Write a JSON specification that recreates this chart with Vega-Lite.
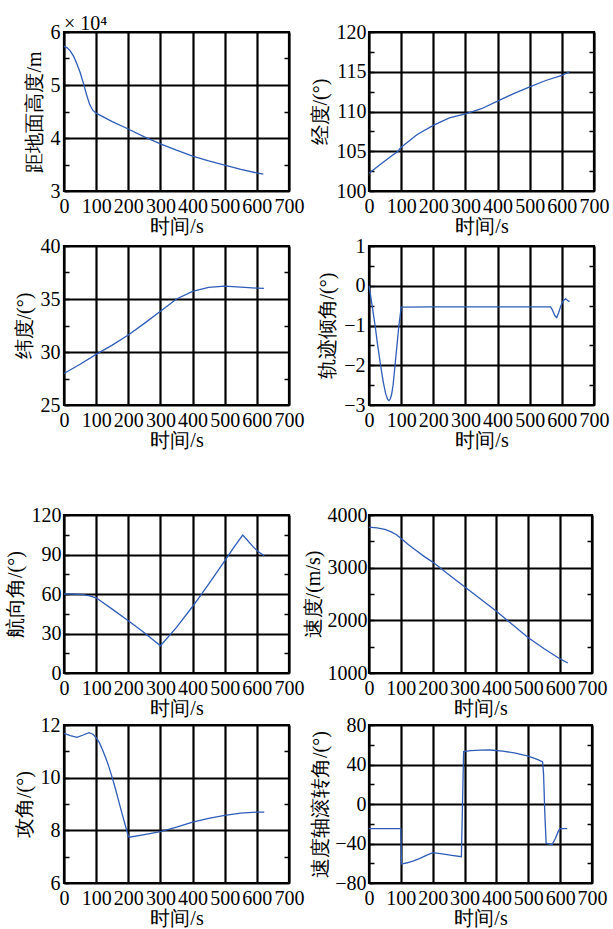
{
  "$schema": "https://vega.github.io/schema/vega-lite/v6.json",
  "padding": {"left": 3, "top": 12, "right": 3, "bottom": 0},
  "background": "white",
  "config": {
    "font": "Liberation Serif",
    "axis": {
      "labelFont": "Liberation Serif",
      "titleFont": "Liberation Serif",
      "labelFontSize": 20,
      "titleFontSize": 20,
      "titleFontWeight": "normal",
      "labelColor": "black",
      "titleColor": "black",
      "gridColor": "black",
      "gridWidth": 2.2,
      "gridOpacity": 1,
      "domain": false,
      "tickColor": "black",
      "tickWidth": 1.5,
      "labelOverlap": false
    },
    "view": {"stroke": "black", "strokeWidth": 2.2},
    "line": {"color": "#2e5cb8", "strokeWidth": 1.3}
  },
  "datasets": {
    "alt": [
      {"t": 0, "v": 57300}, {"t": 10, "v": 57000}, {"t": 20, "v": 56400}, {"t": 30, "v": 55400},
      {"t": 40, "v": 54000}, {"t": 50, "v": 52400}, {"t": 60, "v": 50400}, {"t": 70, "v": 48200},
      {"t": 80, "v": 46300}, {"t": 90, "v": 45200}, {"t": 100, "v": 44700}, {"t": 150, "v": 43100},
      {"t": 200, "v": 41700}, {"t": 250, "v": 40200}, {"t": 300, "v": 38900}, {"t": 350, "v": 37700},
      {"t": 400, "v": 36600}, {"t": 450, "v": 35700}, {"t": 500, "v": 34900}, {"t": 550, "v": 34100},
      {"t": 600, "v": 33400}, {"t": 620, "v": 33200}
    ],
    "lon": [
      {"t": 0, "v": 102.23}, {"t": 50, "v": 103.8}, {"t": 90, "v": 105.0}, {"t": 100, "v": 105.5},
      {"t": 150, "v": 107.1}, {"t": 200, "v": 108.25}, {"t": 250, "v": 109.2}, {"t": 300, "v": 109.7},
      {"t": 350, "v": 110.35}, {"t": 400, "v": 111.3}, {"t": 450, "v": 112.25}, {"t": 500, "v": 113.1},
      {"t": 550, "v": 113.9}, {"t": 600, "v": 114.55}, {"t": 624, "v": 115.0}
    ],
    "lat": [
      {"t": 0, "v": 27.97}, {"t": 50, "v": 28.84}, {"t": 100, "v": 29.78}, {"t": 150, "v": 30.65},
      {"t": 200, "v": 31.6}, {"t": 250, "v": 32.7}, {"t": 300, "v": 33.84}, {"t": 350, "v": 35.0},
      {"t": 400, "v": 35.72}, {"t": 450, "v": 36.1}, {"t": 500, "v": 36.22}, {"t": 550, "v": 36.12},
      {"t": 600, "v": 36.03}, {"t": 622, "v": 36.0}
    ],
    "gamma": [
      {"t": 0, "v": 0}, {"t": 5, "v": -0.25}, {"t": 10, "v": -0.52}, {"t": 19, "v": -1.0},
      {"t": 27, "v": -1.5}, {"t": 36, "v": -2.0}, {"t": 45, "v": -2.45}, {"t": 52, "v": -2.72},
      {"t": 58, "v": -2.86}, {"t": 62, "v": -2.89}, {"t": 66, "v": -2.85}, {"t": 70, "v": -2.75},
      {"t": 75, "v": -2.5}, {"t": 81, "v": -2.0}, {"t": 87, "v": -1.5}, {"t": 93, "v": -1.0},
      {"t": 97, "v": -0.75}, {"t": 100, "v": -0.54}, {"t": 200, "v": -0.53}, {"t": 400, "v": -0.53},
      {"t": 565, "v": -0.53}, {"t": 570, "v": -0.6}, {"t": 578, "v": -0.75}, {"t": 584, "v": -0.8},
      {"t": 590, "v": -0.68}, {"t": 597, "v": -0.5}, {"t": 605, "v": -0.37}, {"t": 612, "v": -0.33},
      {"t": 618, "v": -0.37}, {"t": 624, "v": -0.4}
    ],
    "psi": [
      {"t": 0, "v": 60}, {"t": 20, "v": 60}, {"t": 40, "v": 59.8}, {"t": 60, "v": 59.5},
      {"t": 80, "v": 58.6}, {"t": 100, "v": 57.1}, {"t": 150, "v": 48.5}, {"t": 200, "v": 39.7},
      {"t": 250, "v": 30.5}, {"t": 300, "v": 20.7}, {"t": 350, "v": 34.6}, {"t": 400, "v": 50.5},
      {"t": 450, "v": 67.5}, {"t": 500, "v": 85.1}, {"t": 530, "v": 96}, {"t": 556, "v": 104.8},
      {"t": 570, "v": 101}, {"t": 588, "v": 96}, {"t": 605, "v": 92}, {"t": 623, "v": 89}
    ],
    "vel": [
      {"t": 0, "v": 3770}, {"t": 25, "v": 3755}, {"t": 50, "v": 3725}, {"t": 70, "v": 3680},
      {"t": 85, "v": 3630}, {"t": 100, "v": 3560}, {"t": 125, "v": 3430}, {"t": 150, "v": 3315},
      {"t": 175, "v": 3205}, {"t": 200, "v": 3106}, {"t": 250, "v": 2870}, {"t": 300, "v": 2637},
      {"t": 350, "v": 2405}, {"t": 400, "v": 2174}, {"t": 450, "v": 1920}, {"t": 500, "v": 1670},
      {"t": 550, "v": 1460}, {"t": 600, "v": 1267}, {"t": 624, "v": 1190}
    ],
    "aoa": [
      {"t": 0, "v": 11.68}, {"t": 20, "v": 11.6}, {"t": 40, "v": 11.53}, {"t": 60, "v": 11.62},
      {"t": 78, "v": 11.71}, {"t": 90, "v": 11.65}, {"t": 100, "v": 11.52}, {"t": 110, "v": 11.33},
      {"t": 120, "v": 11.05}, {"t": 130, "v": 10.75}, {"t": 140, "v": 10.4}, {"t": 150, "v": 10.0},
      {"t": 160, "v": 9.58}, {"t": 170, "v": 9.12}, {"t": 180, "v": 8.66}, {"t": 190, "v": 8.22},
      {"t": 200, "v": 7.78}, {"t": 203, "v": 7.74}, {"t": 250, "v": 7.84}, {"t": 300, "v": 7.95},
      {"t": 350, "v": 8.12}, {"t": 400, "v": 8.31}, {"t": 450, "v": 8.45}, {"t": 500, "v": 8.57},
      {"t": 550, "v": 8.65}, {"t": 600, "v": 8.69}, {"t": 623, "v": 8.69}
    ],
    "bank": [
      {"t": 0, "v": -25}, {"t": 100, "v": -25}, {"t": 102, "v": -60.8}, {"t": 120, "v": -59.5},
      {"t": 140, "v": -57.5}, {"t": 160, "v": -55}, {"t": 180, "v": -52}, {"t": 200, "v": -49.2},
      {"t": 230, "v": -50.5}, {"t": 260, "v": -52}, {"t": 290, "v": -53.3}, {"t": 297, "v": 53},
      {"t": 320, "v": 54}, {"t": 350, "v": 54.6}, {"t": 380, "v": 54.7}, {"t": 420, "v": 53.6},
      {"t": 460, "v": 51.5}, {"t": 500, "v": 48.5}, {"t": 530, "v": 45}, {"t": 545, "v": 42.5},
      {"t": 548, "v": 30}, {"t": 552, "v": -10}, {"t": 556, "v": -39.5}, {"t": 565, "v": -40.5},
      {"t": 575, "v": -41}, {"t": 585, "v": -35}, {"t": 595, "v": -27}, {"t": 600, "v": -25},
      {"t": 622, "v": -25}
    ]
  },
  "concat": [
    {
      "concat": [
        {
          "width": 225, "height": 159,
          "data": {"name": "alt"},
          "title": {"text": "× 10⁴", "anchor": "start", "frame": "group", "font": "Liberation Serif", "fontSize": 20, "fontWeight": "normal", "color": "black", "offset": -12},
          "encoding": {"x": {"field": "t", "type": "quantitative", "scale": {"domain": [0, 700], "nice": false},
                    "axis": {"title": "时间/s", "values": [0,100,200,300,400,500,600,700], "format": "d", "ticks": false, "labelFlush": false, "labelPadding": 5, "titlePadding": 0}}},
          "layer": [
            {"mark": "line", "encoding": {
              "y": {"field": "v", "type": "quantitative", "scale": {"domain": [30000, 60000], "nice": false, "zero": false},
                    "axis": {"title": "距地面高度/m", "values": [30000,35000,40000,45000,50000,55000,60000], "labelExpr": "datum.value % 10000 === 0 ? format(datum.value / 10000, 'd') : ''", "gridOpacity": {"condition": {"test": "datum.value % 10000 !== 0", "value": 0}, "value": 1}, "tickSize": -5, "labelPadding": 9, "titlePadding": 6}}
            }},
            {"mark": {"type": "line", "opacity": 0}, "encoding": {
              "y": {"field": "v", "type": "quantitative", "axis": {"orient": "right", "title": null, "labels": false, "grid": false, "values": [35000,45000,55000], "tickSize": -5}}
            }}
          ],
          "resolve": {"axis": {"y": "independent"}}
        },
        {
          "width": 225, "height": 159,
          "data": {"name": "lon"},
          "encoding": {"x": {"field": "t", "type": "quantitative", "scale": {"domain": [0, 700], "nice": false},
                    "axis": {"title": "时间/s", "values": [0,100,200,300,400,500,600,700], "format": "d", "ticks": false, "labelFlush": false, "labelPadding": 5, "titlePadding": 0}}},
          "layer": [
            {"mark": "line", "encoding": {
              "y": {"field": "v", "type": "quantitative", "scale": {"domain": [100, 120], "nice": false, "zero": false},
                    "axis": {"title": "经度/(°)", "values": [100,102.5,105,107.5,110,112.5,115,117.5,120], "labelExpr": "datum.value % 5 === 0 ? format(datum.value, 'd') : ''", "gridOpacity": {"condition": {"test": "datum.value % 5 !== 0", "value": 0}, "value": 1}, "tickSize": -5, "labelPadding": 8, "titlePadding": 6}}
            }},
            {"mark": {"type": "line", "opacity": 0}, "encoding": {
              "y": {"field": "v", "type": "quantitative", "axis": {"orient": "right", "title": null, "labels": false, "grid": false, "values": [102.5,107.5,112.5,117.5], "tickSize": -5}}
            }}
          ],
          "resolve": {"axis": {"y": "independent"}}
        },
        {
          "width": 225, "height": 159,
          "data": {"name": "lat"},
          "encoding": {"x": {"field": "t", "type": "quantitative", "scale": {"domain": [0, 700], "nice": false},
                    "axis": {"title": "时间/s", "values": [0,100,200,300,400,500,600,700], "format": "d", "ticks": false, "labelFlush": false, "labelPadding": 5, "titlePadding": 0}}},
          "layer": [
            {"mark": "line", "encoding": {
              "y": {"field": "v", "type": "quantitative", "scale": {"domain": [25, 40], "nice": false, "zero": false},
                    "axis": {"title": "纬度/(°)", "values": [25,27.5,30,32.5,35,37.5,40], "labelExpr": "datum.value % 5 === 0 ? format(datum.value, 'd') : ''", "gridOpacity": {"condition": {"test": "datum.value % 5 !== 0", "value": 0}, "value": 1}, "tickSize": -5, "labelPadding": 9, "titlePadding": 6}}
            }},
            {"mark": {"type": "line", "opacity": 0}, "encoding": {
              "y": {"field": "v", "type": "quantitative", "axis": {"orient": "right", "title": null, "labels": false, "grid": false, "values": [27.5,32.5,37.5], "tickSize": -5}}
            }}
          ],
          "resolve": {"axis": {"y": "independent"}}
        },
        {
          "width": 225, "height": 159,
          "data": {"name": "gamma"},
          "encoding": {"x": {"field": "t", "type": "quantitative", "scale": {"domain": [0, 700], "nice": false},
                    "axis": {"title": "时间/s", "values": [0,100,200,300,400,500,600,700], "format": "d", "ticks": false, "labelFlush": false, "labelPadding": 5, "titlePadding": 0}}},
          "layer": [
            {"mark": "line", "encoding": {
              "y": {"field": "v", "type": "quantitative", "scale": {"domain": [-3, 1], "nice": false, "zero": false},
                    "axis": {"title": "轨迹倾角/(°)", "values": [-3,-2.5,-2,-1.5,-1,-0.5,0,0.5,1], "labelExpr": "datum.value % 1 === 0 ? format(datum.value, 'd') : ''", "gridOpacity": {"condition": {"test": "datum.value % 1 !== 0", "value": 0}, "value": 1}, "tickSize": -5, "labelPadding": 9, "titlePadding": 6}}
            }},
            {"mark": {"type": "line", "opacity": 0}, "encoding": {
              "y": {"field": "v", "type": "quantitative", "axis": {"orient": "right", "title": null, "labels": false, "grid": false, "values": [-2.5,-1.5,-0.5,0.5], "tickSize": -5}}
            }}
          ],
          "resolve": {"axis": {"y": "independent"}}
        }
      ],
      "columns": 2,
      "bounds": "flush",
      "spacing": {"row": 55, "column": 80}
    },
    {
      "concat": [
        {
          "width": 225, "height": 158,
          "data": {"name": "psi"},
          "encoding": {"x": {"field": "t", "type": "quantitative", "scale": {"domain": [0, 700], "nice": false},
                    "axis": {"title": "时间/s", "values": [0,100,200,300,400,500,600,700], "format": "d", "ticks": false, "labelFlush": false, "labelPadding": 5, "titlePadding": 0}}},
          "layer": [
            {"mark": "line", "encoding": {
              "y": {"field": "v", "type": "quantitative", "scale": {"domain": [0, 120], "nice": false, "zero": false},
                    "axis": {"title": "航向角/(°)", "values": [0,15,30,45,60,75,90,105,120], "labelExpr": "datum.value % 30 === 0 ? format(datum.value, 'd') : ''", "gridOpacity": {"condition": {"test": "datum.value % 30 !== 0", "value": 0}, "value": 1}, "tickSize": -5, "labelPadding": 8, "titlePadding": 6}}
            }},
            {"mark": {"type": "line", "opacity": 0}, "encoding": {
              "y": {"field": "v", "type": "quantitative", "axis": {"orient": "right", "title": null, "labels": false, "grid": false, "values": [15,45,75,105], "tickSize": -5}}
            }}
          ],
          "resolve": {"axis": {"y": "independent"}}
        },
        {
          "width": 223, "height": 158,
          "data": {"name": "vel"},
          "encoding": {"x": {"field": "t", "type": "quantitative", "scale": {"domain": [0, 700], "nice": false},
                    "axis": {"title": "时间/s", "values": [0,100,200,300,400,500,600,700], "format": "d", "ticks": false, "labelFlush": false, "labelPadding": 5, "titlePadding": 0}}},
          "layer": [
            {"mark": "line", "encoding": {
              "y": {"field": "v", "type": "quantitative", "scale": {"domain": [1000, 4000], "nice": false, "zero": false},
                    "axis": {"title": "速度/(m/s)", "values": [1000,1500,2000,2500,3000,3500,4000], "labelExpr": "datum.value % 1000 === 0 ? format(datum.value, 'd') : ''", "gridOpacity": {"condition": {"test": "datum.value % 1000 !== 0", "value": 0}, "value": 1}, "tickSize": -5, "labelPadding": 7, "titlePadding": 4}}
            }},
            {"mark": {"type": "line", "opacity": 0}, "encoding": {
              "y": {"field": "v", "type": "quantitative", "axis": {"orient": "right", "title": null, "labels": false, "grid": false, "values": [1500,2500,3500], "tickSize": -5}}
            }}
          ],
          "resolve": {"axis": {"y": "independent"}}
        },
        {
          "width": 225, "height": 158,
          "data": {"name": "aoa"},
          "encoding": {"x": {"field": "t", "type": "quantitative", "scale": {"domain": [0, 700], "nice": false},
                    "axis": {"title": "时间/s", "values": [0,100,200,300,400,500,600,700], "format": "d", "ticks": false, "labelFlush": false, "labelPadding": 5, "titlePadding": 0}}},
          "layer": [
            {"mark": "line", "encoding": {
              "y": {"field": "v", "type": "quantitative", "scale": {"domain": [6, 12], "nice": false, "zero": false},
                    "axis": {"title": "攻角/(°)", "values": [6,7,8,9,10,11,12], "labelExpr": "datum.value % 2 === 0 ? format(datum.value, 'd') : ''", "gridOpacity": {"condition": {"test": "datum.value % 2 !== 0", "value": 0}, "value": 1}, "tickSize": -5, "labelPadding": 9, "titlePadding": 6}}
            }},
            {"mark": {"type": "line", "opacity": 0}, "encoding": {
              "y": {"field": "v", "type": "quantitative", "axis": {"orient": "right", "title": null, "labels": false, "grid": false, "values": [7,9,11], "tickSize": -5}}
            }}
          ],
          "resolve": {"axis": {"y": "independent"}}
        },
        {
          "width": 223, "height": 158,
          "data": {"name": "bank"},
          "encoding": {"x": {"field": "t", "type": "quantitative", "scale": {"domain": [0, 700], "nice": false},
                    "axis": {"title": "时间/s", "values": [0,100,200,300,400,500,600,700], "format": "d", "ticks": false, "labelFlush": false, "labelPadding": 5, "titlePadding": 0}}},
          "layer": [
            {"mark": "line", "encoding": {
              "y": {"field": "v", "type": "quantitative", "scale": {"domain": [-80, 80], "nice": false, "zero": false},
                    "axis": {"title": "速度轴滚转角/(°)", "values": [-80,-60,-40,-20,0,20,40,60,80], "labelExpr": "datum.value % 40 === 0 ? format(datum.value, 'd') : ''", "gridOpacity": {"condition": {"test": "datum.value % 40 !== 0", "value": 0}, "value": 1}, "tickSize": -5, "labelPadding": 8, "titlePadding": 4}}
            }},
            {"mark": {"type": "line", "opacity": 0}, "encoding": {
              "y": {"field": "v", "type": "quantitative", "axis": {"orient": "right", "title": null, "labels": false, "grid": false, "values": [-60,-20,20,60], "tickSize": -5}}
            }}
          ],
          "resolve": {"axis": {"y": "independent"}}
        }
      ],
      "columns": 2,
      "bounds": "flush",
      "spacing": {"row": 52, "column": 80}
    }
  ],
  "columns": 1,
  "align": "none",
  "spacing": 51
}
